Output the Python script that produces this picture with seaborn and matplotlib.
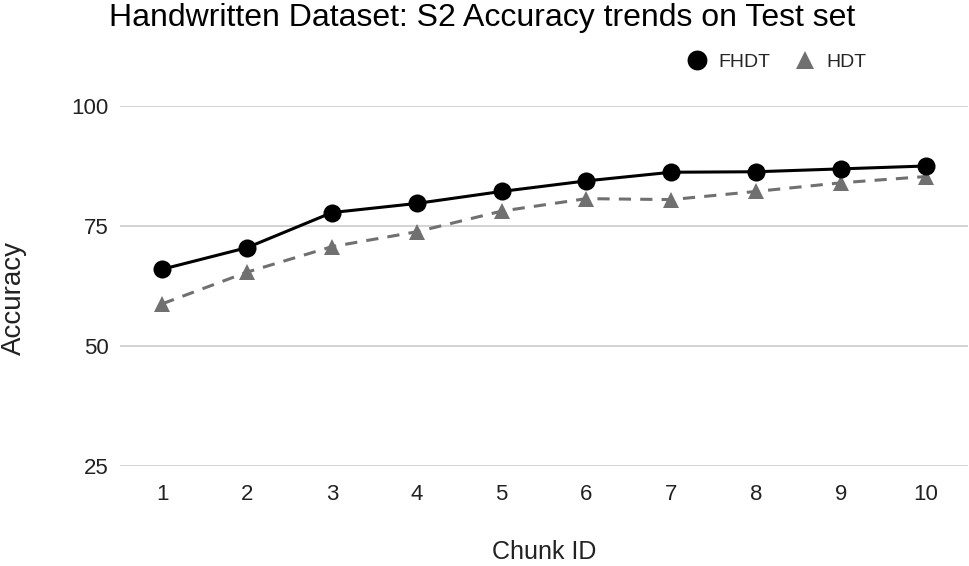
import matplotlib
matplotlib.use("Agg")
import matplotlib.pyplot as plt
import seaborn as sns
import pandas as pd

chunk_ids = [1, 2, 3, 4, 5, 6, 7, 8, 9, 10]
fhdt = [66.0, 70.5, 77.8, 79.7, 82.2, 84.4, 86.2, 86.3, 86.9, 87.5]
hdt = [58.8, 65.4, 70.7, 73.8, 78.1, 80.7, 80.5, 82.2, 84.0, 85.3]
y_ticks = [25, 50, 75, 100]

title = "Handwritten Dataset: S2 Accuracy trends on Test set"
x_label = "Chunk ID"
y_label = "Accuracy"

sns.set_theme(style="white")
plt.rcParams['font.family'] = ['Liberation Sans', 'DejaVu Sans']

fig = plt.figure(figsize=(9.7, 5.66), dpi=100)
ax = fig.add_axes([120/970, 1-466/566, 848/970, 360/566])

df = pd.DataFrame({"Chunk ID": chunk_ids, "FHDT": fhdt, "HDT": hdt})

sns.lineplot(data=df, x="Chunk ID", y="FHDT", ax=ax, color="black", linewidth=2.2,
             marker="o", markersize=13, markeredgewidth=0, label="FHDT", zorder=4)
sns.lineplot(data=df, x="Chunk ID", y="HDT", ax=ax, color="#707070", linewidth=2.2,
             linestyle=(0, (4, 3)), marker="^", markersize=12, markeredgewidth=0,
             label="HDT", zorder=3)

ax.set_xlim(0.5, 10.5)
ax.set_ylim(25, 100)
ax.set_xticks(chunk_ids)
ax.set_xticklabels([str(c) for c in chunk_ids])
ax.set_yticks(y_ticks)
ax.set_yticklabels([str(t) for t in y_ticks])
ax.grid(axis="y", color="#cccccc", linewidth=1.2)
ax.grid(axis="x", visible=False)
for s in ax.spines.values():
    s.set_visible(False)
ax.tick_params(axis="both", length=0, labelsize=16, colors="#222222")
ax.tick_params(axis="y", pad=8)
ax.tick_params(axis="x", pad=13)
ax.set_axisbelow(True)
for lab in ax.get_xticklabels() + ax.get_yticklabels():
    lab.set_clip_on(False)

ax.set_xlabel(x_label, fontsize=18, color="#222222")
ax.set_ylabel(y_label, fontsize=20, color="#222222")
ax.xaxis.set_label_coords(0.5, -0.205)
ax.yaxis.set_label_coords(-0.11, 0.467)

fig.text(482/970, 1-26/566, title, ha="center", va="baseline", fontsize=23, color="black")

leg = ax.legend(loc="center right", bbox_to_anchor=(884/970, 1-62/566),
                bbox_transform=fig.transFigure, ncol=2, frameon=False,
                fontsize=14, handlelength=1.2, handletextpad=0.5, columnspacing=1.2,
                markerscale=1.1)
for h in leg.legend_handles:
    h.set_linestyle("none")

fig.savefig("out.png", dpi=100)
